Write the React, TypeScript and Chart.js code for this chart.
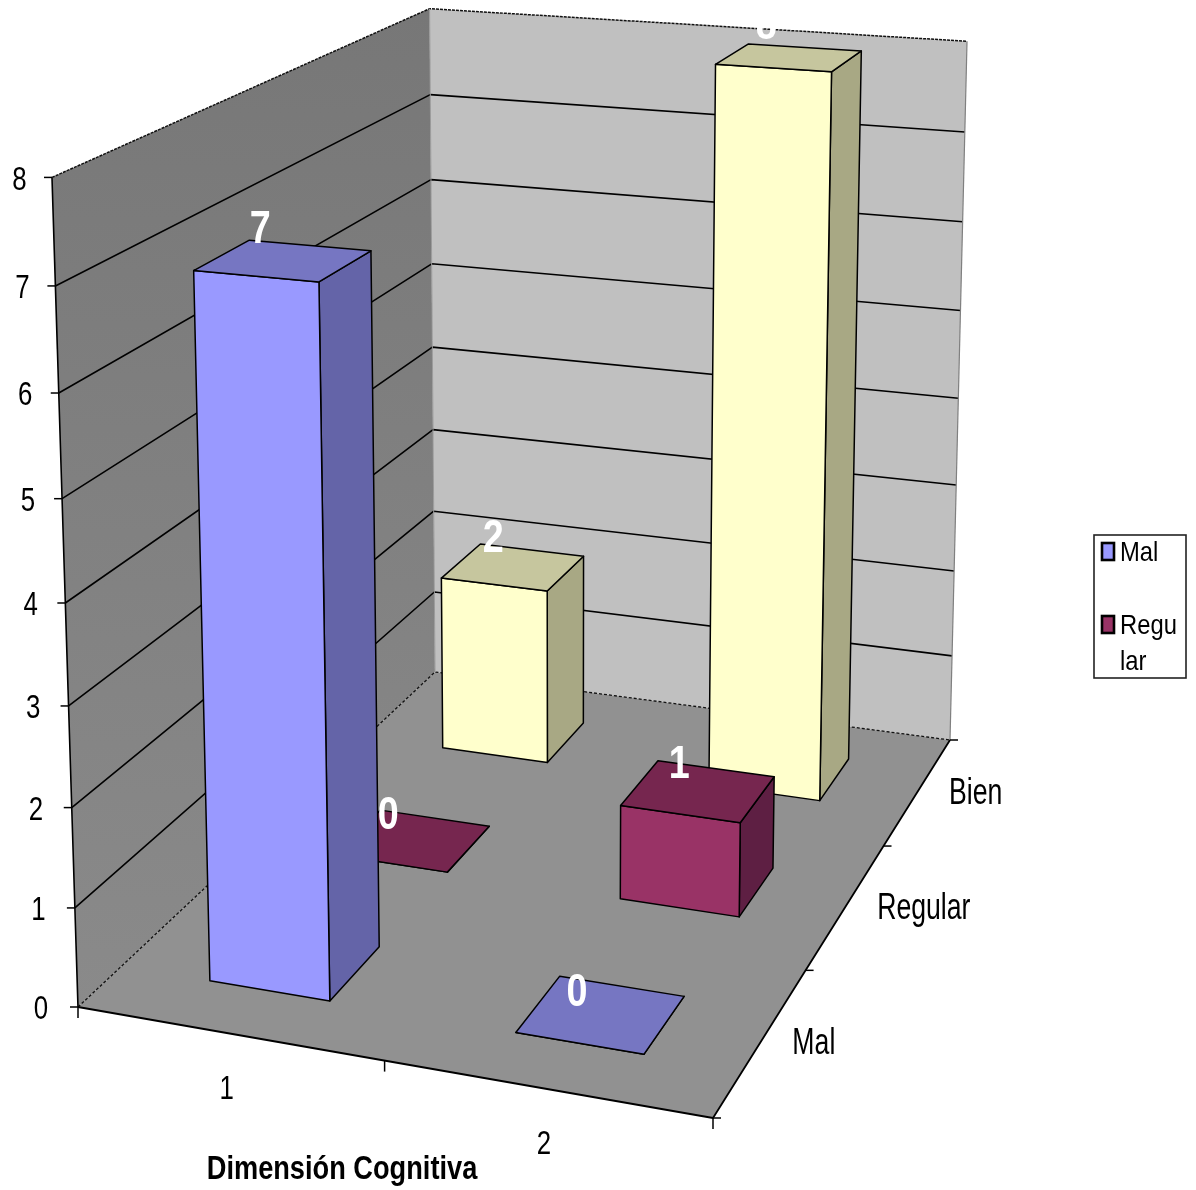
import React, { useEffect, useRef } from "react";
import { Chart, registerables } from "chart.js";

Chart.register(...registerables);

const categories = ["1", "2"];
const seriesNames = ["Mal", "Regular", "Bien"];
const malValues = [7, 0];
const regularValues = [0, 1];
const bienValues = [2, 8];
const frontColors = ["#9999FF", "#993366", "#FFFFCC"];
const topColors = ["#7676C2", "#76264F", "#C6C69E"];
const sideColors = ["#6464A8", "#5E1F43", "#A8A884"];
const axisTitle = "Dimensión Cognitiva";
const legendRows = [
  { series: 0, lines: ["Mal"] },
  { series: 1, lines: ["Regu", "lar"] },
];

// Perspective of the box: floor corners, vanishing point of verticals, height factor
const FLOOR = { p0: [78, 1007], p1: [713, 1118], p2: [950, 740], p3: [435, 672] };
const VANISH = [565, 16540];
const HEIGHT_K = -0.0507;
const BAR_HALF_W = 0.1;
const BAR_HALF_D = 0.2 / 3;
const FONT = '"Liberation Sans", Arial, sans-serif';
// label nudges per [series][category]
const LABEL_OFFSET = [
  [[-23, -34], [-24, -25]],
  [[-25, -28], [-19, -29]],
  [[-20, -32], [-23, -35]],
];

function makeHomography() {
  const { p0, p1, p2, p3 } = FLOOR;
  const dx1 = p1[0] - p2[0], dx2 = p3[0] - p2[0], sx = p0[0] - p1[0] + p2[0] - p3[0];
  const dy1 = p1[1] - p2[1], dy2 = p3[1] - p2[1], sy = p0[1] - p1[1] + p2[1] - p3[1];
  const det = dx1 * dy2 - dx2 * dy1;
  const g = (sx * dy2 - dx2 * sy) / det;
  const h = (dx1 * sy - sx * dy1) / det;
  const a = p1[0] - p0[0] + g * p1[0], b = p3[0] - p0[0] + h * p3[0], c = p0[0];
  const d = p1[1] - p0[1] + g * p1[1], e = p3[1] - p0[1] + h * p3[1], f = p0[1];
  return (u: number, v: number, z: number) => {
    const w = 1 + g * u + h * v;
    const x = (a * u + b * v + c) / w;
    const y = (d * u + e * v + f) / w;
    const t = (HEIGHT_K * z) / (w + HEIGHT_K * z);
    return [x + (VANISH[0] - x) * t, y + (VANISH[1] - y) * t];
  };
}
const project = makeHomography();

function poly(ctx: CanvasRenderingContext2D, pts: number[][], fill?: any, stroke?: string, lw = 1.2, dash: number[] = []) {
  ctx.save();
  ctx.beginPath();
  pts.forEach((p, i) => (i ? ctx.lineTo(p[0], p[1]) : ctx.moveTo(p[0], p[1])));
  if (fill) {
    ctx.closePath();
    ctx.fillStyle = fill;
    ctx.fill();
  }
  if (stroke) {
    ctx.setLineDash(dash);
    ctx.strokeStyle = stroke;
    ctx.lineWidth = lw;
    ctx.lineJoin = "round";
    ctx.stroke();
  }
  ctx.restore();
}

function text(ctx: CanvasRenderingContext2D, s: string, x: number, y: number, size: number, sx: number, opts: { bold?: boolean; color?: string; align?: CanvasTextAlign } = {}) {
  ctx.save();
  ctx.font = `${opts.bold ? "bold " : ""}${size}px ${FONT}`;
  ctx.fillStyle = opts.color || "#000";
  ctx.textAlign = opts.align || "center";
  ctx.textBaseline = "alphabetic";
  ctx.translate(x, y + size * 0.358);
  ctx.scale(sx, 1);
  ctx.fillText(s, 0, 0);
  ctx.restore();
}

const box3d = {
  id: "box3d",
  beforeDatasetsDraw(chart: any) {
    const ctx: CanvasRenderingContext2D = chart.ctx;
    const xs = chart.scales.x;
    const ys = chart.scales.y;
    const zOf = (val: number) => (ys.bottom - ys.getPixelForValue(val)) / ys.height;
    const uOf = (i: number) => (xs.getPixelForValue(i) - xs.left) / xs.width;
    const nSeries = chart.data.datasets.length;
    const vOf = (s: number) => (s + 0.5) / nSeries;

    // Walls and floor
    const grad = ctx.createLinearGradient(0, 10, 0, 1005);
    grad.addColorStop(0, "#777777");
    grad.addColorStop(1, "#8A8A8A");
    poly(ctx, [project(0, 0, 0), project(0, 1, 0), project(0, 1, 1), project(0, 0, 1)], grad);
    poly(ctx, [project(0, 1, 0), project(1, 1, 0), project(1, 1, 1), project(0, 1, 1)], "#C0C0C0");
    poly(ctx, [project(0, 0, 0), project(1, 0, 0), project(1, 1, 0), project(0, 1, 0)], "#919191");

    // Gridlines from the value scale
    ys.ticks.forEach((tick: any) => {
      const z = zOf(tick.value);
      if (z > 0 && z < 1) {
        poly(ctx, [project(0, 0, z), project(0, 1, z), project(1, 1, z)], null, "#000", 1.6);
      }
    });

    // Box edges
    poly(ctx, [project(0, 0, 1), project(0, 1, 1), project(1, 1, 1)], null, "#111", 1.5, [3, 1]);
    poly(ctx, [project(0, 0, 0), project(0, 1, 0), project(1, 1, 0)], null, "#111", 1.3, [3, 2]);
    poly(ctx, [project(1, 1, 0), project(1, 1, 1)], null, "#808080", 1.2);
    poly(ctx, [project(0, 1, 0), project(0, 1, 1)], null, "#9A9A9A", 1);
    poly(ctx, [project(0, 0, 0), project(0, 0, 1)], null, "#000", 1.6);
    poly(ctx, [project(0, 0, 0), project(1, 0, 0), project(1, 1, 0)], null, "#000", 1.8);

    // Value axis ticks and labels
    ys.ticks.forEach((tick: any) => {
      const z = zOf(tick.value);
      const p = project(0, 0, z);
      poly(ctx, [[p[0] - 8, p[1]], [p[0], p[1]]], null, "#000", 1.5);
      text(ctx, String(tick.value), p[0] - 37 + 4.5 * z, p[1], 34, 0.76);
    });

    // Category axis ticks and labels
    const nCat = chart.data.labels.length;
    for (let i = 0; i <= nCat; i++) {
      const p = project(i / nCat, 0, 0);
      poly(ctx, [[p[0], p[1]], [p[0], p[1] + 11]], null, "#000", 1.5);
    }
    chart.data.labels.forEach((lab: string, i: number) => {
      const p = project(uOf(i), 0, 0);
      text(ctx, lab, p[0] - 2, p[1] + 53, 34, 0.76);
    });

    // Depth axis ticks and labels
    for (let s = 0; s <= nSeries; s++) {
      const p = project(1, s / nSeries, 0);
      poly(ctx, [[p[0], p[1]], [p[0] + 8, p[1]]], null, "#000", 1.5);
    }
    chart.data.datasets.forEach((ds: any, s: number) => {
      const p = project(1, vOf(s), 0);
      text(ctx, ds.label, p[0] + 31, p[1], 36, 0.74, { align: "left" });
    });

    // Bars, back to front
    for (let s = nSeries - 1; s >= 0; s--) {
      const ds = chart.data.datasets[s];
      ds.data.forEach((val: number, i: number) => {
        const u0 = uOf(i) - BAR_HALF_W, u1 = uOf(i) + BAR_HALF_W;
        const v0 = vOf(s) - BAR_HALF_D, v1 = vOf(s) + BAR_HALF_D;
        const z = zOf(val);
        poly(ctx, [project(u1, v0, 0), project(u1, v1, 0), project(u1, v1, z), project(u1, v0, z)], sideColors[s], "#000", 1.5);
        poly(ctx, [project(u0, v0, 0), project(u1, v0, 0), project(u1, v0, z), project(u0, v0, z)], ds.backgroundColor, "#000", 1.5);
        poly(ctx, [project(u0, v0, z), project(u1, v0, z), project(u1, v1, z), project(u0, v1, z)], topColors[s], "#000", 1.5);
      });
    }

    // Value labels on top
    for (let s = nSeries - 1; s >= 0; s--) {
      chart.data.datasets[s].data.forEach((val: number, i: number) => {
        const p = project(uOf(i), vOf(s), zOf(val));
        const o = LABEL_OFFSET[s][i];
        text(ctx, String(val), p[0] + o[0], p[1] + o[1], 46, 0.82, { bold: true, color: "#FFFFFF" });
      });
    }

    // Axis title
    text(ctx, xs.options.title.text, 342, 1167, 34, 0.8, { bold: true });

    // Legend
    ctx.save();
    ctx.fillStyle = "#FFFFFF";
    ctx.strokeStyle = "#222";
    ctx.lineWidth = 1.6;
    ctx.fillRect(1094, 535, 92, 143);
    ctx.strokeRect(1094, 535, 92, 143);
    ctx.restore();
    legendRows.forEach((row, r) => {
      const cy = 551 + r * 73;
      ctx.save();
      ctx.fillStyle = chart.data.datasets[row.series].backgroundColor;
      ctx.strokeStyle = "#000";
      ctx.lineWidth = 2.6;
      ctx.fillRect(1102, cy - 8, 12, 17);
      ctx.strokeRect(1102, cy - 8, 12, 17);
      ctx.restore();
      row.lines.forEach((line, l) => {
        text(ctx, line, 1120, cy + l * 36, 28, 0.85, { align: "left" });
      });
    });

    return false; // the 3D faces above replace the flat bars
  },
};

export default function App() {
  const ref = useRef<HTMLCanvasElement>(null);
  useEffect(() => {
    const chart = new Chart(ref.current as HTMLCanvasElement, {
      type: "bar",
      data: {
        labels: categories,
        datasets: [
          { label: seriesNames[0], data: malValues, backgroundColor: frontColors[0] },
          { label: seriesNames[1], data: regularValues, backgroundColor: frontColors[1] },
          { label: seriesNames[2], data: bienValues, backgroundColor: frontColors[2] },
        ],
      },
      options: {
        animation: false,
        responsive: false,
        devicePixelRatio: 1,
        plugins: { legend: { display: false }, tooltip: { enabled: false } },
        scales: {
          x: {
            title: { display: false, text: axisTitle },
            ticks: { display: false },
            grid: { display: false },
            border: { display: false },
          },
          y: {
            min: 0,
            max: 8,
            ticks: { display: false, stepSize: 1 },
            grid: { display: false },
            border: { display: false },
          },
        },
      },
      plugins: [box3d],
    } as any);
    return () => chart.destroy();
  }, []);
  return (
    <div style={{ position: "absolute", left: 0, top: 0, width: 1196, height: 1190, background: "#fff", overflow: "hidden" }}>
      <canvas ref={ref} width={1196} height={1190} style={{ display: "block", filter: "blur(0.5px)" }} />
    </div>
  );
}
